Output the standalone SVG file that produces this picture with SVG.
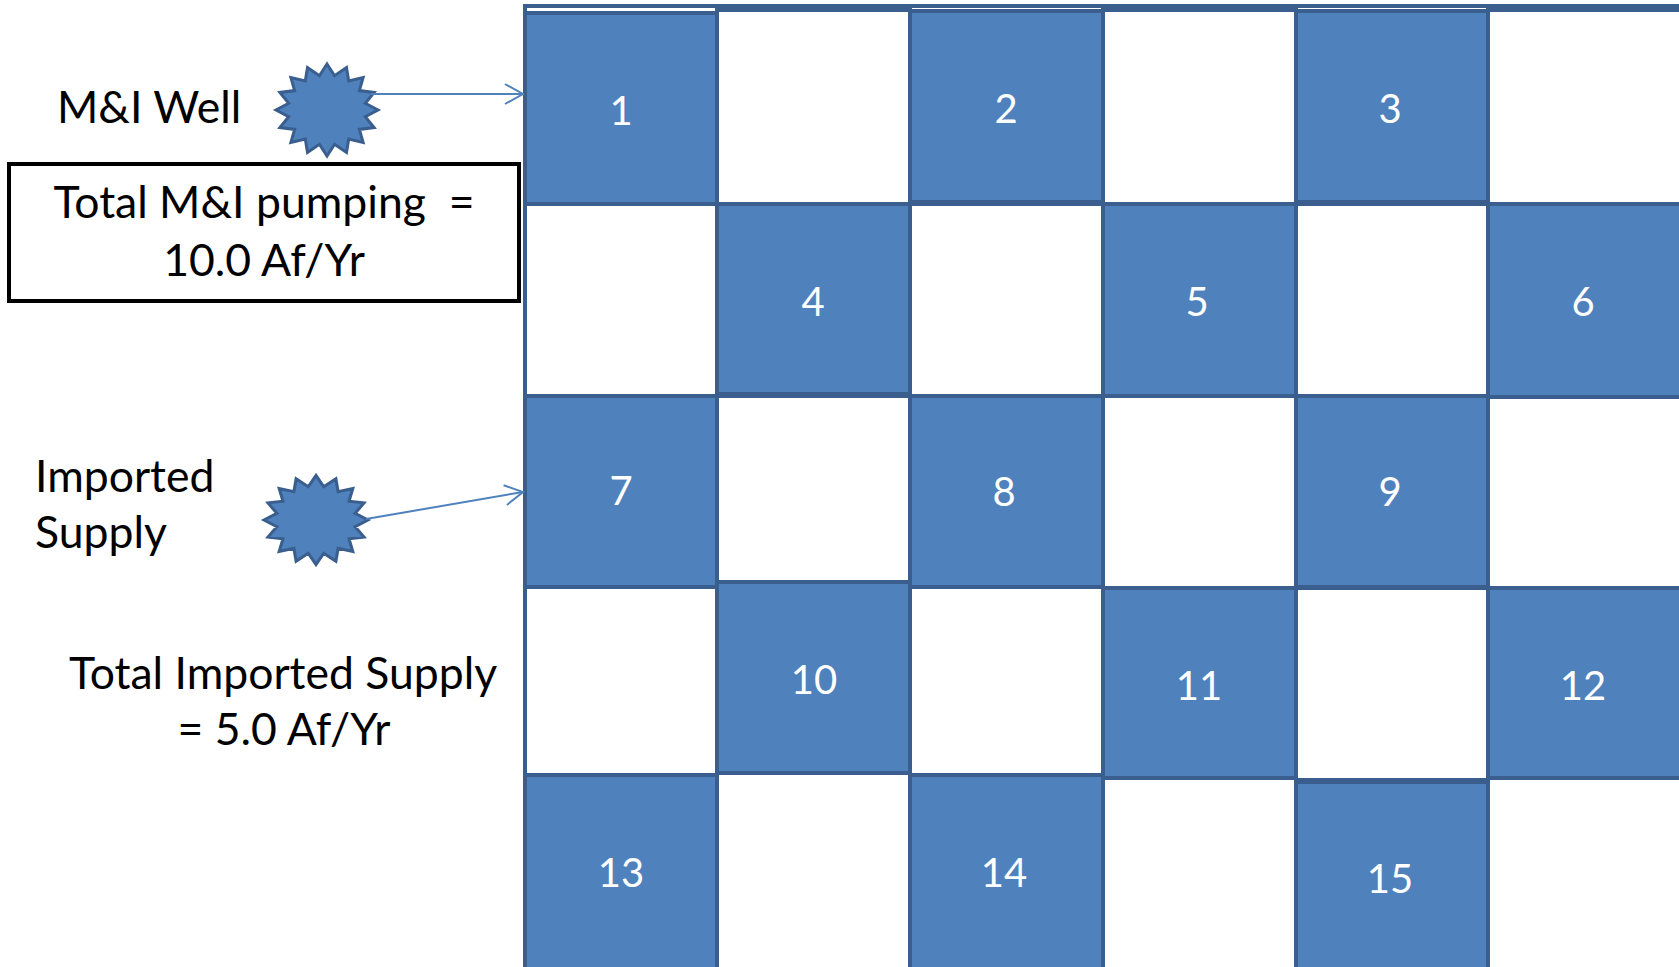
<svg xmlns="http://www.w3.org/2000/svg" width="1679" height="967" viewBox="0 0 1679 967">
<style>
.w{fill:#FFFFFF;stroke:#3A5F8E;stroke-width:4}
.b{fill:#4F81BD;stroke:#3A5F8E;stroke-width:4}
.n{fill:#FFFFFF;font-family:Lato,"Open Sans",sans-serif;font-size:40px;text-anchor:middle}
.t{fill:#000000;font-family:Lato,"Open Sans",sans-serif;font-size:44.5px}
.c{stroke:#4F81BD;stroke-width:2;fill:none}
.star{fill:#4F81BD;stroke:#3A5F8E;stroke-width:3}
</style>
<defs>
<marker id="arr" markerUnits="userSpaceOnUse" markerWidth="22" markerHeight="24" refX="20" refY="11" orient="auto">
<path d="M2,1 L20,11 L2,21" fill="none" stroke="#4F81BD" stroke-width="2"/>
</marker>
<path id="starShape" d="M0,-46 L7.6,-34.3 L19.5,-42.5 L21.7,-29.1 L36.1,-32.5 L32.4,-19.4 L47.1,-17.6 L38.3,-6.8 L51,0 L38.3,6.8 L47.1,17.6 L32.4,19.4 L36.1,32.5 L21.7,29.1 L19.5,42.5 L7.6,34.3 L0,46 L-7.6,34.3 L-19.5,42.5 L-21.7,29.1 L-36.1,32.5 L-32.4,19.4 L-47.1,17.6 L-38.3,6.8 L-51,0 L-38.3,-6.8 L-47.1,-17.6 L-32.4,-19.4 L-36.1,-32.5 L-21.7,-29.1 L-19.5,-42.5 L-7.6,-34.3 Z"/>
</defs>
<rect x="0" y="0" width="1679" height="967" fill="#FFFFFF"/>

<g id="grid-frame">
<rect x="525" y="6" width="1170" height="975" fill="#FFFFFF" stroke="#3A5F8E" stroke-width="4"/>
</g>

<g id="white-cells">
<rect class="w" x="717" y="10" width="193" height="194"/>
<rect class="w" x="1103" y="10" width="193" height="194"/>
<rect class="w" x="1488" y="10" width="200" height="194"/>
<rect class="w" x="525" y="204" width="192" height="192"/>
<rect class="w" x="910" y="204" width="193" height="192"/>
<rect class="w" x="1296" y="204" width="192" height="192"/>
<rect class="w" x="717" y="396" width="193" height="187"/>
<rect class="w" x="1103" y="396" width="193" height="192"/>
<rect class="w" x="1488" y="396" width="200" height="192"/>
<rect class="w" x="525" y="587" width="192" height="188"/>
<rect class="w" x="910" y="587" width="193" height="188"/>
<rect class="w" x="1296" y="588" width="192" height="192"/>
<rect class="w" x="717" y="773" width="193" height="200"/>
<rect class="w" x="1103" y="778" width="193" height="195"/>
<rect class="w" x="1488" y="778" width="200" height="195"/>
</g>

<g id="cell1"><rect class="b" x="525" y="13" width="192" height="191"/><text class="n" x="621" y="125">1</text></g>
<g id="cell2"><rect class="b" x="910" y="11" width="193" height="191"/><text class="n" x="1006" y="123">2</text></g>
<g id="cell3"><rect class="b" x="1296" y="11" width="192" height="191"/><text class="n" x="1390" y="123">3</text></g>
<g id="cell4"><rect class="b" x="717" y="204" width="193" height="190"/><text class="n" x="813" y="316">4</text></g>
<g id="cell5"><rect class="b" x="1103" y="204" width="193" height="192"/><text class="n" x="1197" y="316">5</text></g>
<g id="cell6"><rect class="b" x="1488" y="204" width="200" height="193"/><text class="n" x="1583" y="316">6</text></g>
<g id="cell7"><rect class="b" x="525" y="396" width="192" height="191"/><text class="n" x="621" y="505">7</text></g>
<g id="cell8"><rect class="b" x="910" y="396" width="193" height="191"/><text class="n" x="1004" y="506">8</text></g>
<g id="cell9"><rect class="b" x="1296" y="396" width="192" height="191"/><text class="n" x="1390" y="506">9</text></g>
<g id="cell10"><rect class="b" x="717" y="582" width="193" height="191"/><text class="n" x="814" y="694">10</text></g>
<g id="cell11"><rect class="b" x="1103" y="588" width="193" height="190"/><text class="n" x="1199" y="700">11</text></g>
<g id="cell12"><rect class="b" x="1488" y="588" width="200" height="190"/><text class="n" x="1583" y="700">12</text></g>
<g id="cell13"><rect class="b" x="525" y="775" width="192" height="198"/><text class="n" x="621" y="887">13</text></g>
<g id="cell14"><rect class="b" x="910" y="775" width="193" height="198"/><text class="n" x="1004" y="887">14</text></g>
<g id="cell15"><rect class="b" x="1296" y="782" width="192" height="191"/><text class="n" x="1390" y="893">15</text></g>

<g id="mi-well-label"><text class="t" x="57" y="123">M&amp;I Well</text></g>
<g id="mi-well-star"><use href="#starShape" class="star" transform="translate(327,110)"/></g>

<g id="mi-total-box">
<rect x="9" y="164" width="510" height="137" fill="#FFFFFF" stroke="#000000" stroke-width="4"/>
<text class="t" x="264" y="218" text-anchor="middle">Total M&amp;I pumping &#160;=</text>
<text class="t" x="264" y="276" text-anchor="middle">10.0 Af/Yr</text>
</g>

<g id="imported-label"><text class="t" x="35" y="492">Imported</text><text class="t" x="35" y="548">Supply</text></g>
<g id="imported-star"><use href="#starShape" class="star" transform="translate(316,520) scale(1.02,0.97)"/></g>

<g id="imported-total"><text class="t" x="283" y="689" text-anchor="middle">Total Imported Supply</text><text class="t" x="284" y="745" text-anchor="middle">= 5.0 Af/Yr</text></g>

<g id="connectors">
<line class="c" x1="371" y1="94" x2="523" y2="94" marker-end="url(#arr)"/>
<line class="c" x1="366" y1="519" x2="523" y2="492" marker-end="url(#arr)"/>
</g>
</svg>
